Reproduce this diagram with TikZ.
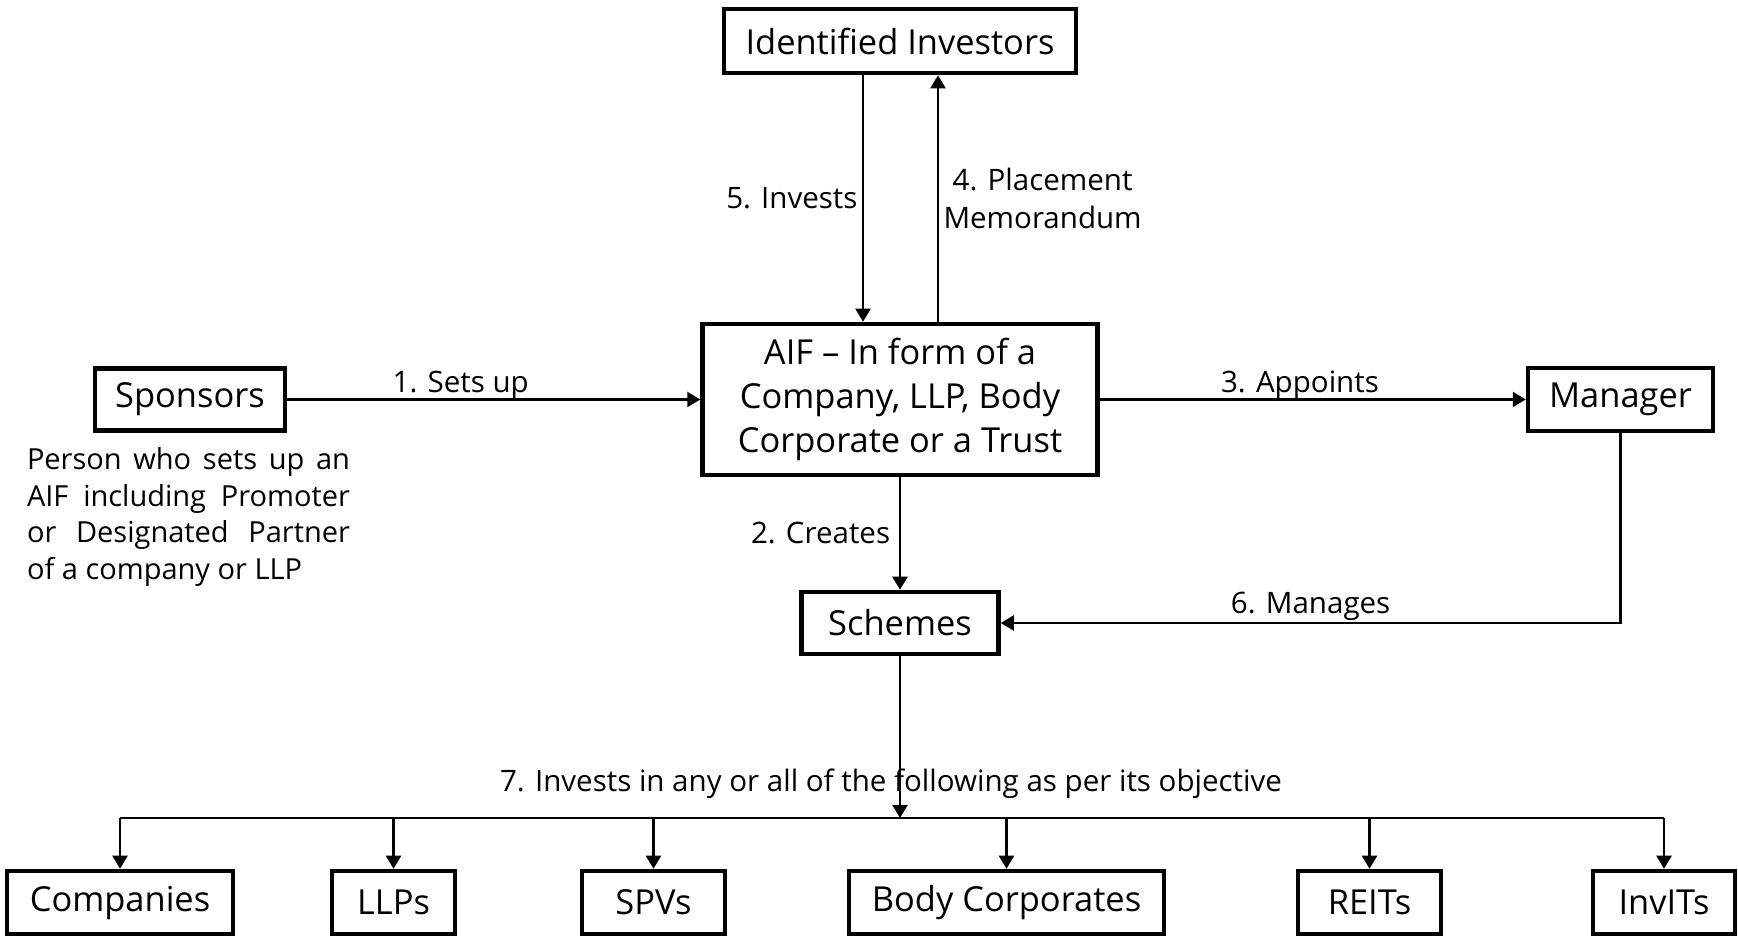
\documentclass[tikz,border=0pt]{standalone}
\usepackage{fontspec}
\setmainfont{Open Sans}
\usetikzlibrary{arrows.meta}
\newcommand\descfont{\fontsize{16.5}{20.9}\selectfont\hyphenpenalty=10000\relax}
\tikzstyle{box}=[draw, rectangle, line width=2.6pt, inner sep=0pt, align=center, font=\fontsize{19.6}{25}\selectfont]
\tikzstyle{edge}=[draw, line width=1.3pt, -{Triangle[length=0.26cm,width=0.3cm]}]
\tikzstyle{wire}=[draw, line width=1.3pt]
\tikzstyle{steplabel}=[inner sep=2.5pt, font=\fontsize{16.8}{21.5}\selectfont]
\tikzstyle{desc}=[inner sep=0pt, text width=6.46cm, align=justify, font=\descfont]

\begin{document}
\begin{tikzpicture}[x=0.02cm, y=-0.02cm]

    \useasboundingbox (0,0) rectangle (1738,936);

    % main boxes
    \node[box, minimum width=7.04cm, minimum height=1.28cm] (inv) at (900,41) {Identified Investors};
    \node[box, minimum width=7.9cm, minimum height=3.02cm] (aif) at (900,399.5) {AIF -- In form of a\\Company, LLP, Body\\Corporate or a Trust};
    \node[box, minimum width=3.8cm, minimum height=1.24cm] (spon) at (190,399.5) {Sponsors};
    \node[box, minimum width=3.7cm, minimum height=1.26cm] (mgr) at (1620.5,399.5) {Manager};
    \node[box, minimum width=3.94cm, minimum height=1.24cm] (sch) at (900,623) {Schemes};

    \node[desc] (who) at (188.5,517) {Person who sets up an\linebreak AIF including Promoter\linebreak or Designated Partner\linebreak of a company or LLP};

    % investee row
    \foreach \x/\w/\name/\txt in {120/4.52/comp/Companies, 393.5/2.46/llp/LLPs, 653.5/2.86/spv/SPVs, 1006.5/6.3/bc/Body Corporates, 1369.5/2.86/reit/REITs, 1664/2.84/invit/InvITs}
        \node[box, minimum width=\w cm, minimum height=1.26cm] (\name) at (\x,902.5) {\txt};

    \path[edge] (spon) -- node[steplabel, above, pos=0.42, yshift=-3pt] {1. Sets up} (aif);
    \path[edge] (aif) -- node[steplabel, left, inner sep=5pt] {2. Creates} (sch);
    \path[edge] (aif) -- node[steplabel, above, pos=0.47, yshift=-3pt] {3. Appoints} (mgr);
    \path[edge] ([xshift=0.76cm]aif.north) -- node[steplabel, right, align=center] {4. Placement\\Memorandum} ([xshift=0.76cm]inv.south);
    \path[edge] ([xshift=-0.74cm]inv.south) -- node[steplabel, left] {5. Invests} ([xshift=-0.74cm]aif.north);
    \path[edge] (mgr) |- node[steplabel, above, pos=0.75, yshift=-2pt] {6. Manages} (sch);

    % fan out to investees
    \coordinate (bus) at (900,818);
    \path[edge] (sch) -- (bus);
    \path[wire] (comp.north |- bus) -- (invit.north |- bus);
    \foreach \name in {comp, llp, spv, bc, reit, invit}
        \path[edge] (\name.north |- bus) -- (\name);
    \node[steplabel] (objective) at (891,784) {7. Invests in any or all of the following as per its objective};

\end{tikzpicture}
\end{document}
